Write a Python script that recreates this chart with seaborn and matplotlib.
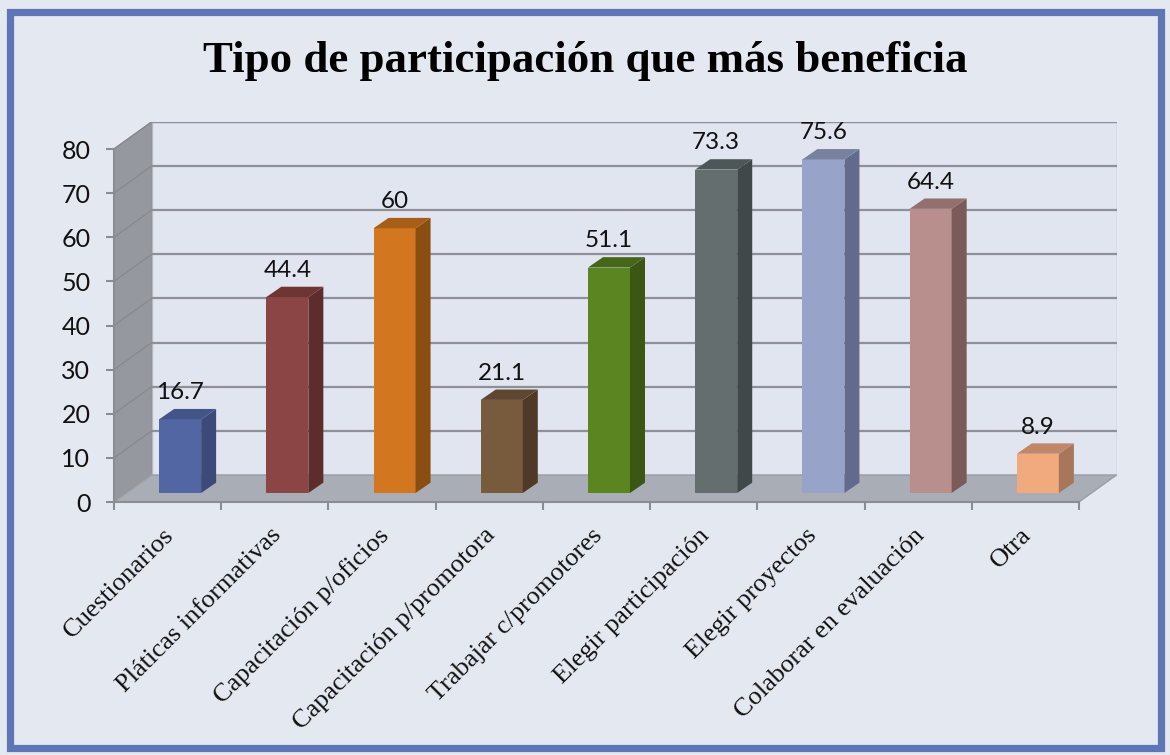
import numpy as np
import matplotlib
matplotlib.use("Agg")
import matplotlib.pyplot as plt
import matplotlib.transforms as mtransforms
import seaborn as sns
from matplotlib.patches import Polygon, Rectangle

# datos
categorias = ["Cuestionarios", "Pláticas informativas", "Capacitación p/oficios",
              "Capacitación p/promotora", "Trabajar c/promotores", "Elegir participación",
              "Elegir proyectos", "Colaborar en evaluación", "Otra"]
valores = [16.7, 44.4, 60, 21.1, 51.1, 73.3, 75.6, 64.4, 8.9]
etiquetas = ["16.7", "44.4", "60", "21.1", "51.1", "73.3", "75.6", "64.4", "8.9"]
yticks = [0, 10, 20, 30, 40, 50, 60, 70, 80]

colores = ["#5166a2", "#8b4545", "#d2761f", "#785a3d", "#5a8520",
           "#646e6e", "#97a3c9", "#b98f8d", "#f0aa7e"]
colores_lado = ["#3b4a78", "#5f2c2c", "#8b4e12", "#4f3a27", "#3c5714",
                "#414849", "#636b8c", "#7b5b59", "#a8765a"]
colores_techo = ["#425488", "#6e3535", "#a85e16", "#5e4630", "#46661a",
                 "#4e5757", "#78829f", "#92706e", "#c0876a"]

# profundidad del "3D" (unidades de datos)
DX, DY = 0.35, 6.12        # fondo de la pared
F0 = 0.333                 # posicion de la cara frontal de las barras
BDX, BDY = 0.14, 2.35      # profundidad de cada barra
ANCHO = 0.392

sns.set_theme(style="white")
plt.rcParams["font.family"] = ["Lato", "DejaVu Sans"]

fig = plt.figure(figsize=(11.7, 7.55), dpi=100)
fig.patch.set_facecolor("#e4e8f0")
fig.patches.append(Rectangle((9.5 / 1170, 7.5 / 755), 1151 / 1170, 736 / 755,
                             transform=fig.transFigure, fill=False,
                             edgecolor="#5f76b6", linewidth=5.2))

ax = fig.add_axes([114 / 1170, (755 - 502) / 755, 1002.5 / 1170, 380 / 755])
ax.set_facecolor("none")

sns.barplot(x=categorias, y=valores, hue=categorias, palette=colores,
            legend=False, width=ANCHO, saturation=1, ax=ax, zorder=3)
barras = list(ax.patches)

ax.set_xlim(-0.5, 8.5 + DX)
ax.set_ylim(0, 80 + DY)

x0, x1 = -0.5, len(categorias) - 0.5
# pared lateral
ax.add_patch(Polygon([(x0, 0), (x0, 80), (x0 + DX, 80 + DY), (x0 + DX, DY)],
                     closed=True, facecolor="#95989e", edgecolor="#8a8d93", lw=1, zorder=0.5))
# pared del fondo
ax.add_patch(Rectangle((x0 + DX, DY), x1 - x0, 80, facecolor="#e0e5f0",
                       edgecolor="#b4b8c0", lw=1, zorder=0.5))
# piso
ax.add_patch(Polygon([(x0, 0), (x1, 0), (x1 + DX, DY), (x0 + DX, DY)],
                     closed=True, facecolor="#a9adb5", edgecolor="#9a9ea6", lw=1, zorder=0.9))

# lineas de cuadricula
ax.hlines([v + DY for v in yticks if v > 0], x0 + DX, x1 + DX,
          color="#8d9097", lw=1.6, zorder=0.8)
for v in yticks[1:]:
    ax.plot([x0, x0 + DX], [v, v + DY], color="#84878d", lw=0.8, zorder=0.8)

# barras con caras laterales
for i, p in enumerate(barras):
    p.set_x(p.get_x() + F0 * DX)
    p.set_y(F0 * DY)
    p.set_edgecolor("none")
    bx0 = p.get_x()
    bx1 = bx0 + p.get_width()
    by0 = p.get_y()
    by1 = by0 + p.get_height()
    ax.add_patch(Polygon([(bx1, by0), (bx1 + BDX, by0 + BDY), (bx1 + BDX, by1 + BDY), (bx1, by1)],
                         closed=True, facecolor=colores_lado[i], edgecolor="none", zorder=3))
    ax.add_patch(Polygon([(bx0, by1), (bx1, by1), (bx1 + BDX, by1 + BDY), (bx0 + BDX, by1 + BDY)],
                         closed=True, facecolor=colores_techo[i], edgecolor="none", zorder=3))
    ax.annotate(etiquetas[i], xy=((bx0 + bx1) / 2, by1 + BDY), xytext=(0, 7),
                textcoords="offset points", ha="center", va="baseline",
                fontsize=17.5, color="#111111", zorder=4)

# ejes
for s in ["top", "right"]:
    ax.spines[s].set_visible(False)
ax.spines["left"].set_bounds(0, 80)
ax.spines["bottom"].set_bounds(x0, x1)
for s in ["left", "bottom"]:
    ax.spines[s].set_color("#8a8d93")
    ax.spines[s].set_linewidth(1.5)
    ax.spines[s].set_zorder(1)

ax.set_yticks(yticks)
ax.set_yticklabels([str(v) for v in yticks], fontsize=18, color="#111111")
ax.tick_params(axis="y", length=6, width=1.5, color="#8a8d93", pad=11, left=True)

ax.set_xticks(range(len(categorias)))
ax.set_xticks(np.arange(x0, x1 + 0.1, 1), minor=True)
ax.set_xticklabels(categorias, rotation=45, ha="right", rotation_mode="anchor",
                   fontsize=19, family=["Liberation Serif", "DejaVu Serif"], color="#111111")
ax.tick_params(axis="x", which="major", length=0, pad=16)
ax.tick_params(axis="x", which="minor", length=6, width=1.5, color="#8a8d93", bottom=True)
# pequeño corrimiento a la izquierda de las etiquetas
desplaz = mtransforms.ScaledTranslation(-5 / 100, 0, fig.dpi_scale_trans)
for lab in ax.get_xticklabels():
    lab.set_transform(lab.get_transform() + desplaz)
ax.set_xlabel("")
ax.set_ylabel("")

fig.text(0.5, (755 - 72) / 755, "Tipo de participación que más beneficia",
         ha="center", va="baseline", fontsize=32.3, fontweight="bold",
         family=["Liberation Serif", "DejaVu Serif"], color="#000000")

fig.savefig("out.png", dpi=100, facecolor=fig.get_facecolor())
